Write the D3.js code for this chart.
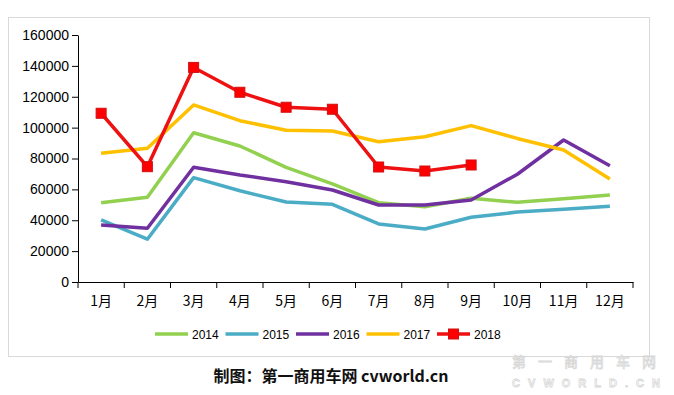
<!DOCTYPE html>
<html><head><meta charset="utf-8">
<script src="https://cdn.jsdelivr.net/npm/d3@7"></script>
<style>body{margin:0;background:#fff;}svg{display:block;}</style>
</head><body>
<svg id="c" width="674" height="395"></svg>
<script>
const months = ["1月","2月","3月","4月","5月","6月","7月","8月","9月","10月","11月","12月"];
const yTicks = [0,20000,40000,60000,80000,100000,120000,140000,160000];
const s2014 = [51400,54900,96700,88100,74300,63500,51400,48800,54200,51600,54000,56400];
const s2015 = [40200,27700,67600,59100,51800,50300,37600,34300,41900,45300,47100,49000];
const s2016 = [36900,34800,74300,69300,65000,59600,49900,49900,53100,69800,92000,75300];
const s2017 = [83400,86600,114700,104500,98300,97800,90900,94100,101300,93000,85500,66700];
const s2018 = [109300,74700,139000,122900,113200,111900,74500,71900,75800];
const seriesNames = ["2014","2015","2016","2017","2018"];
const seriesColors = ["#92d050","#4bacc6","#7030a0","#ffc000","#ee1111"];
const seriesData = [s2014,s2015,s2016,s2017,s2018];

const svg = d3.select("#c");
svg.append("rect").attr("x",8.5).attr("y",17.5).attr("width",641).attr("height",339)
  .attr("fill","#fff").attr("stroke","#d9d9d9").attr("stroke-width",1);

const x = d3.scaleBand().domain(months).range([78,633]).padding(0);
const y = d3.scaleLinear().domain([0,160000]).range([282,35]);
const cx = m => x(m) + x.bandwidth()/2;

// y axis
const ya = svg.append("g").attr("transform","translate(78,0)")
  .call(d3.axisLeft(y).tickValues(yTicks).tickSize(6).tickSizeOuter(0).tickFormat(d3.format("d")));
ya.select(".domain").attr("stroke","#000");
ya.selectAll(".tick line").attr("stroke","#000");
ya.selectAll("text").attr("font-family","Liberation Sans, Arial, sans-serif").attr("font-size",14).attr("fill","#000").attr("x",-9);

// x axis
const xa = svg.append("g").attr("transform","translate(0,282)")
  .call(d3.axisBottom(x).tickSize(0).tickSizeOuter(0));
xa.select(".domain").attr("stroke","#000");
xa.selectAll("text").attr("font-family","Noto Sans CJK SC, sans-serif").attr("font-size",14).attr("fill","#000").attr("dy","0").attr("y",24);
const bounds = months.map(m => x(m)).concat([x.range()[1]]);
svg.append("g").selectAll("line").data(bounds).join("line")
  .attr("x1",d=>d).attr("x2",d=>d).attr("y1",282).attr("y2",288).attr("stroke","#000");

// lines
const line = d3.line().x((d,i)=>cx(months[i])).y(d=>y(d));
seriesData.forEach((arr,k)=>{
  svg.append("path").datum(arr).attr("d",line).attr("fill","none")
    .attr("stroke",seriesColors[k]).attr("stroke-width",3.5).attr("stroke-linejoin","round");
});
svg.append("g").selectAll("rect").data(s2018).join("rect")
  .attr("x",(d,i)=>cx(months[i])-5).attr("y",d=>y(d)-5).attr("width",10).attr("height",10)
  .attr("fill","#ff0000").attr("stroke","#d01010").attr("stroke-width",1);

// legend
const lg = svg.append("g");
seriesNames.forEach((n,k)=>{
  const x0 = 155 + k*70.5;
  lg.append("line").attr("x1",x0).attr("x2",x0+33).attr("y1",334).attr("y2",334)
    .attr("stroke",seriesColors[k]).attr("stroke-width",3.5);
  if(k===4){
    lg.append("rect").attr("x",x0+11.5).attr("y",329).attr("width",10).attr("height",10)
      .attr("fill","#ff0000").attr("stroke","#d01010");
  }
  lg.append("text").attr("x",x0+37).attr("y",338.5).text(n)
    .attr("font-family","Liberation Sans, Arial, sans-serif").attr("font-size",12).attr("fill","#000");
});

// watermark
svg.append("text").attr("x",590).attr("y",367).attr("text-anchor","middle")
  .attr("font-family","Noto Sans CJK SC, sans-serif").attr("font-size",14).attr("letter-spacing",12)
  .attr("fill","#fff").attr("stroke","#d8d8d8").attr("stroke-width",0.8).text("第一商用车网");
svg.append("text").attr("x",590).attr("y",387).attr("text-anchor","middle")
  .attr("font-family","Liberation Sans, Arial, sans-serif").attr("font-size",11).attr("font-weight","bold").attr("letter-spacing",8)
  .attr("fill","#fff").attr("stroke","#d8d8d8").attr("stroke-width",0.8).text("CVWORLD.CN");

// caption
svg.append("text").attr("x",331).attr("y",382).attr("text-anchor","middle")
  .attr("font-family","Noto Sans CJK SC, sans-serif").attr("font-size",16).attr("font-weight","bold")
  .attr("fill","#111").text("制图：第一商用车网 cvworld.cn");
</script>
</body></html>
